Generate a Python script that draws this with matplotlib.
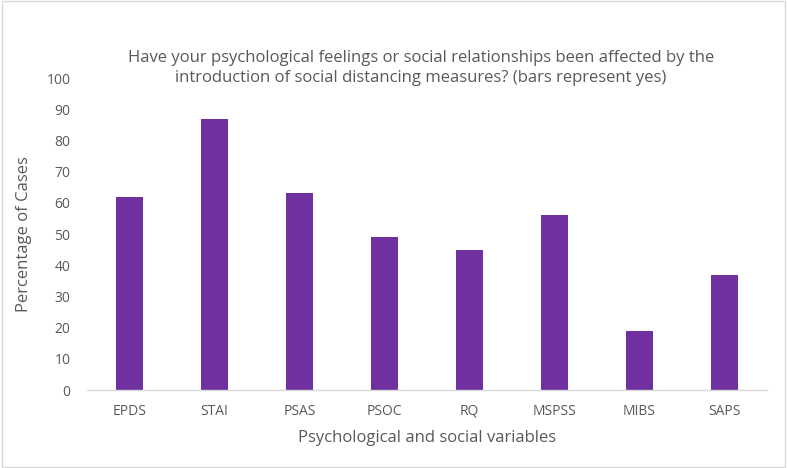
import matplotlib
matplotlib.use('Agg')
from matplotlib import pyplot as plt
from matplotlib.patches import Rectangle
import numpy as np

categories = ['EPDS', 'STAI', 'PSAS', 'PSOC', 'RQ', 'MSPSS', 'MIBS', 'SAPS']
yes_pct = [62, 87, 63, 49, 45, 56, 19, 37]

plt.rcParams['font.family'] = ['Open Sans', 'DejaVu Sans']
txt = '#595959'

fig = plt.figure(figsize=(7.87, 4.68), dpi=100)
ax = fig.add_axes([87/787, 78/468, 680/787, 312/468])

x = np.arange(len(categories))
ax.bar(x, yes_pct, width=0.32, color='#7030A0')

ax.set_xlim(-0.5, len(categories) - 0.5)
ax.set_ylim(0, 100)
ax.set_yticks(range(0, 101, 10))
ax.set_xticks(x)
ax.set_xticklabels(categories)
ax.tick_params(axis='both', length=0, colors=txt, labelsize=10)
ax.tick_params(axis='x', pad=10)
ax.tick_params(axis='y', pad=12)
for s in ['top', 'right', 'left']:
    ax.spines[s].set_visible(False)
ax.spines['bottom'].set_color('#D9D9D9')
ax.spines['bottom'].set_linewidth(1.0)

ax.set_xlabel('Psychological and social variables', color=txt, fontsize=12, labelpad=8)
ax.set_ylabel('Percentage of Cases', color=txt, fontsize=12, labelpad=10)

fig.text(0.535, 1 - 68/468,
         'Have your psychological feelings or social relationships been affected by the\n'
         'introduction of social distancing measures? (bars represent yes)',
         ha='center', va='center', color=txt, fontsize=12, linespacing=1.3)

fig.patches.append(Rectangle((0.002, 0.003), 0.996, 0.994, transform=fig.transFigure,
                             fill=False, edgecolor='#D9D9D9', linewidth=1))

fig.savefig('out.png', dpi=100)
